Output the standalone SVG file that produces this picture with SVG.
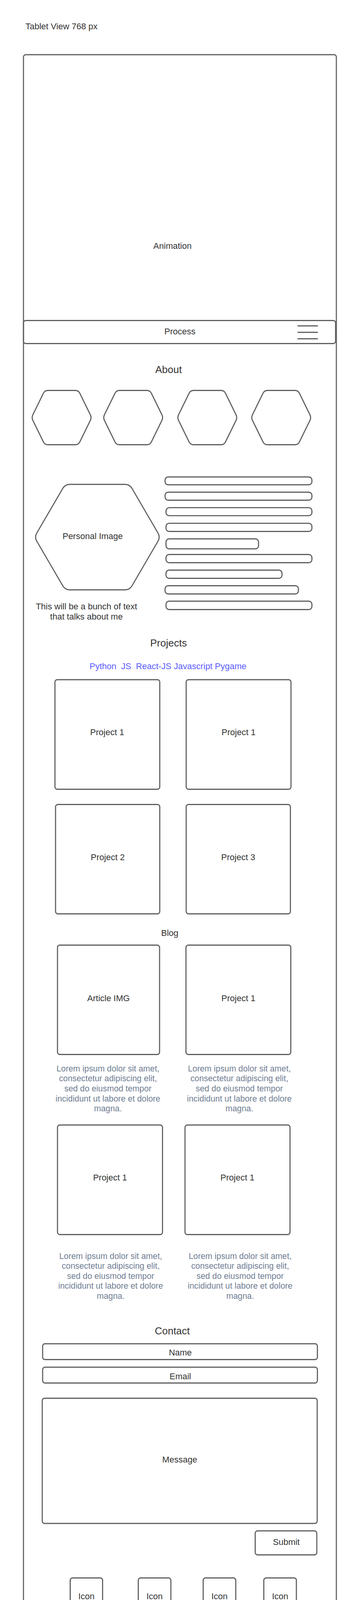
<svg xmlns="http://www.w3.org/2000/svg" xmlns:xlink="http://www.w3.org/1999/xlink" width="900" height="4380" viewBox="0 0 900 4380">
<style>
.box{fill:none;stroke:#5e5e5e;stroke-width:2.8}
.bar{fill:none;stroke:#5e5e5e;stroke-width:2.8}
.t{font-family:"Liberation Sans",Arial,sans-serif;font-size:22px;fill:#333333}
.c{text-anchor:middle}
.h{font-size:26px}
.tag{fill:#5b5bff}
.lorem{font-size:21.33px;fill:#6f7d92;text-anchor:middle}
.ham{stroke:#5e5e5e;stroke-width:3;stroke-linecap:round}
</style>
<defs>
<path id="hexS" d="M3.5,62.3 L30.5,7.2 Q34,0 42,0 L112,0 Q120,0 123.5,7.2 L150.5,62.3 Q154,69.5 150.5,76.7 L123.5,131.8 Q120,139 112,139 L42,139 Q34,139 30.5,131.8 L3.5,76.7 Q0,69.5 3.5,62.3 Z"/>
<path id="hexL" d="M6,124.6 L72.5,10.4 Q78.5,0 90.5,0 L231.5,0 Q243.5,0 249.5,10.4 L316,124.6 Q322,135 316,145.4 L249.5,259.6 Q243.5,270 231.5,270 L90.5,270 Q78.5,270 72.5,259.6 L6,145.4 Q0,135 6,124.6 Z"/>
</defs>
<rect width="900" height="4380" fill="#ffffff"/>
<g id="title"><text class="t" x="65" y="75">Tablet View 768 px</text></g>
<g id="frame"><rect class="box" x="60" y="140" width="800" height="4199" rx="6"/></g>
<g id="animation"><text class="t c" x="441" y="637">Animation</text></g>
<g id="nav">
<rect class="box" x="60" y="820.5" width="798" height="59" rx="6"/>
<text class="t c" x="460" y="856">Process</text>
<line class="ham" x1="762" y1="834.3" x2="811.5" y2="834.3"/>
<line class="ham" x1="762" y1="850.7" x2="811.5" y2="850.7"/>
<line class="ham" x1="762" y1="867.3" x2="811.5" y2="867.3"/>
</g>
<g id="about-heading"><text class="t h c" x="431" y="955">About</text></g>
<g id="hex1"><use xlink:href="#hexS" href="#hexS" class="box" x="80.5" y="999.5"/></g>
<g id="hex2"><use xlink:href="#hexS" href="#hexS" class="box" x="263.5" y="999.5"/></g>
<g id="hex3"><use xlink:href="#hexS" href="#hexS" class="box" x="453" y="999.5"/></g>
<g id="hex4"><use xlink:href="#hexS" href="#hexS" class="box" x="642" y="999.5"/></g>
<g id="personal-image">
<use xlink:href="#hexL" href="#hexL" class="box" x="88" y="1240"/>
<text class="t c" x="237" y="1380">Personal Image</text>
</g>
<g id="about-text"><text class="t c" x="221" y="1559.7">This will be a bunch of text</text><text class="t c" x="221" y="1586.2">that talks about me</text></g>
<g id="text-bars">
<rect class="bar" x="422" y="1221" width="375.5" height="20" rx="8"/>
<rect class="bar" x="422" y="1260" width="375.5" height="20.5" rx="8"/>
<rect class="bar" x="424.5" y="1299.7" width="373" height="20.5" rx="8"/>
<rect class="bar" x="424.5" y="1339.7" width="373" height="20.8" rx="8"/>
<rect class="bar" x="424.5" y="1379.5" width="236.5" height="25.5" rx="8"/>
<rect class="bar" x="424.5" y="1419.5" width="373" height="21" rx="8"/>
<rect class="bar" x="424.5" y="1459.5" width="296.5" height="21" rx="8"/>
<rect class="bar" x="422" y="1499.5" width="341" height="21" rx="8"/>
<rect class="bar" x="424.5" y="1539" width="373" height="21.5" rx="8"/>
</g>
<g id="projects-heading"><text class="t h c" x="431" y="1655">Projects</text></g>
<g id="tags"><text class="t tag" x="229" y="1713" xml:space="preserve">Python  JS  React-JS Javascript Pygame</text></g>
<g id="project-1a"><rect class="box" x="140.5" y="1740" width="268" height="280.5" rx="6"/><text class="t c" x="274" y="1882">Project 1</text></g>
<g id="project-1b"><rect class="box" x="476" y="1740" width="268" height="280.5" rx="6"/><text class="t c" x="610" y="1882">Project 1</text></g>
<g id="project-2"><rect class="box" x="142" y="2059.5" width="266.5" height="280" rx="6"/><text class="t c" x="275.5" y="2202">Project 2</text></g>
<g id="project-3"><rect class="box" x="476" y="2059.5" width="266.5" height="280" rx="6"/><text class="t c" x="609" y="2202">Project 3</text></g>
<g id="blog-heading"><text class="t c" x="434" y="2396">Blog</text></g>
<g id="article-1"><rect class="box" x="147" y="2419.5" width="261" height="280" rx="6"/><text class="t c" x="277.5" y="2562.5">Article IMG</text></g>
<g id="article-2"><rect class="box" x="475.5" y="2419.5" width="268" height="280" rx="6"/><text class="t c" x="609.5" y="2562.5">Project 1</text></g>
<g id="lorem-1"><text class="t lorem" x="276" y="2742.7">Lorem ipsum dolor sit amet,</text><text class="t lorem" x="276" y="2768.3">consectetur adipiscing elit,</text><text class="t lorem" x="276" y="2793.9">sed do eiusmod tempor</text><text class="t lorem" x="276" y="2819.5">incididunt ut labore et dolore</text><text class="t lorem" x="276" y="2845.1">magna.</text></g>
<g id="lorem-2"><text class="t lorem" x="612" y="2742.7">Lorem ipsum dolor sit amet,</text><text class="t lorem" x="612" y="2768.3">consectetur adipiscing elit,</text><text class="t lorem" x="612" y="2793.9">sed do eiusmod tempor</text><text class="t lorem" x="612" y="2819.5">incididunt ut labore et dolore</text><text class="t lorem" x="612" y="2845.1">magna.</text></g>
<g id="article-3"><rect class="box" x="147" y="2880" width="268.5" height="280.5" rx="6"/><text class="t c" x="281.3" y="3021.7">Project 1</text></g>
<g id="article-4"><rect class="box" x="473" y="2880" width="268.5" height="280.5" rx="6"/><text class="t c" x="607" y="3021.7">Project 1</text></g>
<g id="lorem-3"><text class="t lorem" x="283" y="3222.5">Lorem ipsum dolor sit amet,</text><text class="t lorem" x="283" y="3248.1">consectetur adipiscing elit,</text><text class="t lorem" x="283" y="3273.7">sed do eiusmod tempor</text><text class="t lorem" x="283" y="3299.3">incididunt ut labore et dolore</text><text class="t lorem" x="283" y="3324.9">magna.</text></g>
<g id="lorem-4"><text class="t lorem" x="614" y="3222.5">Lorem ipsum dolor sit amet,</text><text class="t lorem" x="614" y="3248.1">consectetur adipiscing elit,</text><text class="t lorem" x="614" y="3273.7">sed do eiusmod tempor</text><text class="t lorem" x="614" y="3299.3">incididunt ut labore et dolore</text><text class="t lorem" x="614" y="3324.9">magna.</text></g>
<g id="contact-heading"><text class="t h c" x="440.5" y="3415.5">Contact</text></g>
<g id="name-field"><rect class="box" x="109" y="3440" width="702.5" height="40.5" rx="6"/><text class="t c" x="461" y="3470">Name</text></g>
<g id="email-field"><rect class="box" x="109" y="3500" width="702.5" height="40.5" rx="6"/><text class="t c" x="461" y="3530.5">Email</text></g>
<g id="message-field"><rect class="box" x="108" y="3579.5" width="703" height="320.5" rx="6"/><text class="t c" x="459.5" y="3744">Message</text></g>
<g id="submit"><rect class="box" x="652.5" y="3919" width="157.5" height="61.5" rx="6"/><text class="t c" x="732" y="3955">Submit</text></g>
<g id="icon-1"><rect class="box" x="179.5" y="4039.5" width="82.8" height="101" rx="6"/><text class="t c" x="221" y="4094">Icon</text></g>
<g id="icon-2"><rect class="box" x="353.6" y="4039.5" width="83.3" height="101" rx="6"/><text class="t c" x="395.3" y="4094">Icon</text></g>
<g id="icon-3"><rect class="box" x="519.5" y="4039.5" width="83.3" height="101" rx="6"/><text class="t c" x="561.2" y="4094">Icon</text></g>
<g id="icon-4"><rect class="box" x="674.5" y="4039.5" width="83.3" height="101" rx="6"/><text class="t c" x="716.2" y="4094">Icon</text></g>
<g id="footer"><text class="t c" x="461" y="4284.5">Footer Text</text></g>
<g id="connectors"/>
</svg>
